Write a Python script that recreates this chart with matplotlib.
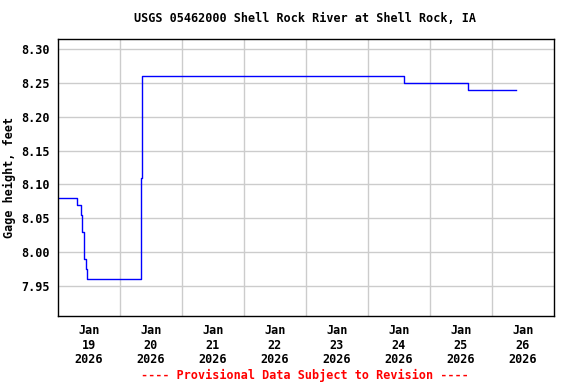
import matplotlib
matplotlib.use("Agg")
import matplotlib.pyplot as plt

# Time in days since Jan 19 2026 00:00
t = [0.0, 0.311, 0.311, 0.366, 0.366, 0.382, 0.382, 0.392, 0.392, 0.424, 0.424,
     0.452, 0.452, 0.473, 0.473, 1.344, 1.344, 1.355, 1.355, 5.586, 5.586,
     6.605, 6.605, 7.382]
gage = [8.08, 8.08, 8.07, 8.07, 8.055, 8.055, 8.035, 8.035, 8.03, 8.03, 7.99,
        7.99, 7.975, 7.975, 7.96, 7.96, 8.11, 8.11, 8.26, 8.26, 8.25,
        8.25, 8.24, 8.24]

yticks = [7.95, 8.00, 8.05, 8.10, 8.15, 8.20, 8.25, 8.30]
day_labels = ["Jan\n19\n2026", "Jan\n20\n2026", "Jan\n21\n2026", "Jan\n22\n2026",
              "Jan\n23\n2026", "Jan\n24\n2026", "Jan\n25\n2026", "Jan\n26\n2026"]

font = "DejaVu Sans Mono"
fs = 8.5

fig = plt.figure(figsize=(5.76, 3.84), dpi=100)
ax = fig.add_axes([58/576, 1-316/384, (554-58)/576, (316-39)/384])

ax.plot(t, gage, color="#0000ff", lw=1.0)
ax.set_xlim(0, 8)
ax.set_ylim(7.9056, 8.315)

ax.set_yticks(yticks)
ax.set_yticklabels([f"{v:.2f}" for v in yticks], fontfamily=font, fontweight="bold", fontsize=fs)
ax.set_xticks([d + 0.5 for d in range(8)])
ax.set_xticklabels(day_labels, fontfamily=font, fontweight="bold", fontsize=fs, linespacing=1.12)
ax.set_xticks(range(1, 8), minor=True)
ax.tick_params(axis="both", which="both", length=0)
ax.tick_params(axis="x", pad=6)
ax.tick_params(axis="y", pad=6)

ax.grid(False)
ax.xaxis.grid(True, which="minor", color="#cccccc", lw=1.0)
ax.yaxis.grid(True, which="major", color="#cccccc", lw=1.0)
ax.set_axisbelow(True)
for s in ax.spines.values():
    s.set_color("black")
    s.set_linewidth(1.0)

ax.set_ylabel("Gage height, feet", fontfamily=font, fontweight="bold", fontsize=fs, labelpad=4)

fig.text(305/576, 1-19/384, "USGS 05462000 Shell Rock River at Shell Rock, IA",
         ha="center", va="center", fontfamily=font, fontweight="bold", fontsize=fs)
fig.text(305/576, 1-375/384, "---- Provisional Data Subject to Revision ----",
         ha="center", va="center", fontfamily=font, fontweight="bold", fontsize=fs, color="red")

fig.savefig("out.png", dpi=100)
